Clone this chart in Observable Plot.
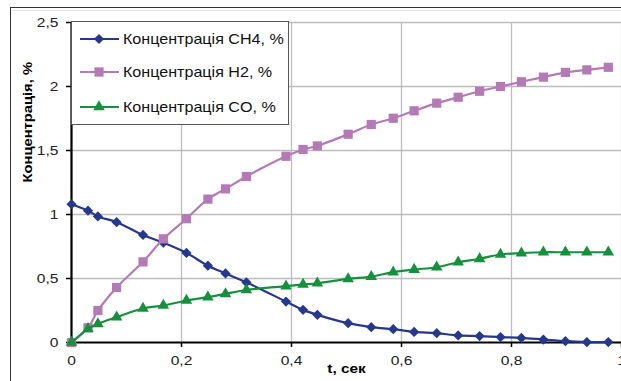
<!DOCTYPE html>
<html><head><meta charset="utf-8">
<script src="https://cdn.jsdelivr.net/npm/d3@7"></script>
<script src="https://cdn.jsdelivr.net/npm/@observablehq/plot@0.6"></script>
<style>
body{margin:0;background:#fff;overflow:hidden}
#wrap{position:relative;width:621px;height:381px;overflow:hidden;font-family:"Liberation Sans",Arial,sans-serif}
#frame{position:absolute;left:10px;top:7px;width:700px;height:400px;border-left:1.5px solid #333;border-top:1.5px solid #333}
#frame2{position:absolute;left:12px;top:10px;width:700px;height:0;border-top:1px solid #e2e2e2}
#plot{position:absolute;left:0;top:0}
#legend{position:absolute;left:71px;top:21px;width:216px;height:102px;border:1px solid #555;background:#fff}
</style></head>
<body>
<div id="wrap"><div id="frame"></div><div id="frame2"></div><div id="plot"></div><div id="legend"></div></div>
<script>
const t   = [0, 0.03, 0.048, 0.082, 0.13, 0.167, 0.209, 0.248, 0.28, 0.318, 0.39, 0.421, 0.447, 0.503, 0.545, 0.585, 0.623, 0.664, 0.703, 0.742, 0.78, 0.818, 0.858, 0.898, 0.937, 0.976];
const ch4 = [1.08, 1.03, 0.985, 0.94, 0.84, 0.78, 0.70, 0.60, 0.54, 0.47, 0.32, 0.255, 0.216, 0.151, 0.12, 0.104, 0.083, 0.073, 0.055, 0.05, 0.042, 0.036, 0.023, 0.01, 0.003, 0.003];
const h2  = [0, 0.115, 0.25, 0.43, 0.63, 0.81, 0.967, 1.12, 1.20, 1.297, 1.455, 1.508, 1.536, 1.627, 1.703, 1.752, 1.81, 1.87, 1.916, 1.963, 2.0, 2.037, 2.073, 2.11, 2.13, 2.15];
const co  = [0, 0.107, 0.146, 0.198, 0.266, 0.289, 0.328, 0.354, 0.38, 0.41, 0.44, 0.453, 0.463, 0.497, 0.515, 0.55, 0.57, 0.588, 0.627, 0.654, 0.6875, 0.698, 0.705, 0.705, 0.705, 0.705];
const seriesNames = ["Концентрація CH4, %", "Концентрація H2, %", "Концентрація CO, %"];
const xTicks = [0, 0.2, 0.4, 0.6, 0.8, 1];
const yTicks = [0, 0.5, 1, 1.5, 2, 2.5];
const xLabel = "t, сек";
const yLabel = "Концентрація, %";

const colors = ["#26388b", "#b47ab6", "#17903e"];
const symbols = ["diamond2", "square", "triangle"];
const radii = [4.6, 5.2, 4.3];
const series = [ch4, h2, co];
const fmt = d => String(d).replace(".", ",");

const marks = [
  Plot.gridX(xTicks.filter(d => d > 0), {stroke: "#bdbdbd", strokeOpacity: 1, strokeWidth: 1.3}),
  Plot.gridY(yTicks.filter(d => d > 0), {stroke: "#bdbdbd", strokeOpacity: 1, strokeWidth: 1.3}),
  Plot.axisX({ticks: xTicks, tickFormat: fmt, tickSize: 5, tickPadding: 8, label: null, fontSize: 13, stroke: "black", strokeWidth: 1.5}),
  Plot.axisY({ticks: yTicks, tickFormat: fmt, tickSize: 5, tickPadding: 8, label: null, fontSize: 13, stroke: "black", strokeWidth: 1.5}),
  Plot.ruleY([0], {stroke: "black", strokeWidth: 2.2}),
  Plot.ruleX([0], {stroke: "black", strokeWidth: 2.2}),
];
series.forEach((vals, i) => {
  const data = t.map((x, j) => ({x, y: vals[j]}));
  marks.push(Plot.line(data, {x: "x", y: "y", stroke: colors[i], strokeWidth: 2.2, curve: "catmull-rom"}));
  marks.push(Plot.dot(data, {x: "x", y: "y", fill: colors[i], symbol: symbols[i], r: radii[i], stroke: "none"}));
});
marks.push(Plot.text([xLabel], {frameAnchor: "bottom", dy: 30, fontWeight: "bold", fontSize: 13, fill: "black"}));
marks.push(Plot.text([yLabel], {frameAnchor: "left", dx: -44, rotate: -90, fontWeight: "bold", fontSize: 12.5, fill: "black"}));

const chart = Plot.plot({
  width: 621, height: 381,
  marginLeft: 71, marginRight: 0, marginTop: 22, marginBottom: 39,
  x: {domain: [0, 1]},
  y: {domain: [0, 2.5]},
  style: {background: "transparent", fontFamily: "'Liberation Sans', Arial, sans-serif", fontSize: "13px", color: "#222", overflow: "visible"},
  marks
});
// widen glyphs horizontally, as in the reference
d3.select(chart).selectAll('g[aria-label$="tick label"] text').each(function() {
  const tr = this.getAttribute("transform") || "";
  this.setAttribute("transform", tr + " scale(1.2,1)");
});
d3.select(chart).selectAll('g[aria-label="text"] text').each(function() {
  const tr = this.getAttribute("transform") || "";
  this.setAttribute("transform", tr + " scale(1.18,1)");
});
document.getElementById("plot").appendChild(chart);

// legend
const lg = d3.select("#legend").append("svg").attr("width", 216).attr("height", 102)
  .style("font-family", "'Liberation Sans', Arial, sans-serif");
const symMap = {diamond2: d3.symbolDiamond2, square: d3.symbolSquare, triangle: d3.symbolTriangle};
const ys = [17, 50, 85];
seriesNames.forEach((name, i) => {
  const g = lg.append("g").attr("transform", `translate(0,${ys[i]})`);
  g.append("line").attr("x1", 8).attr("x2", 47).attr("stroke", colors[i]).attr("stroke-width", 2.2);
  g.append("path").attr("d", d3.symbol(symMap[symbols[i]], Math.PI * radii[i] * radii[i])()).attr("transform", "translate(27,0)").attr("fill", colors[i]);
  g.append("text").attr("x", 51).attr("dy", "0.35em").attr("font-size", 14).attr("fill", "#111")
    .attr("transform", "translate(51,0) scale(1.15,1) translate(-51,0)").text(name);
});
</script>
</body></html>
